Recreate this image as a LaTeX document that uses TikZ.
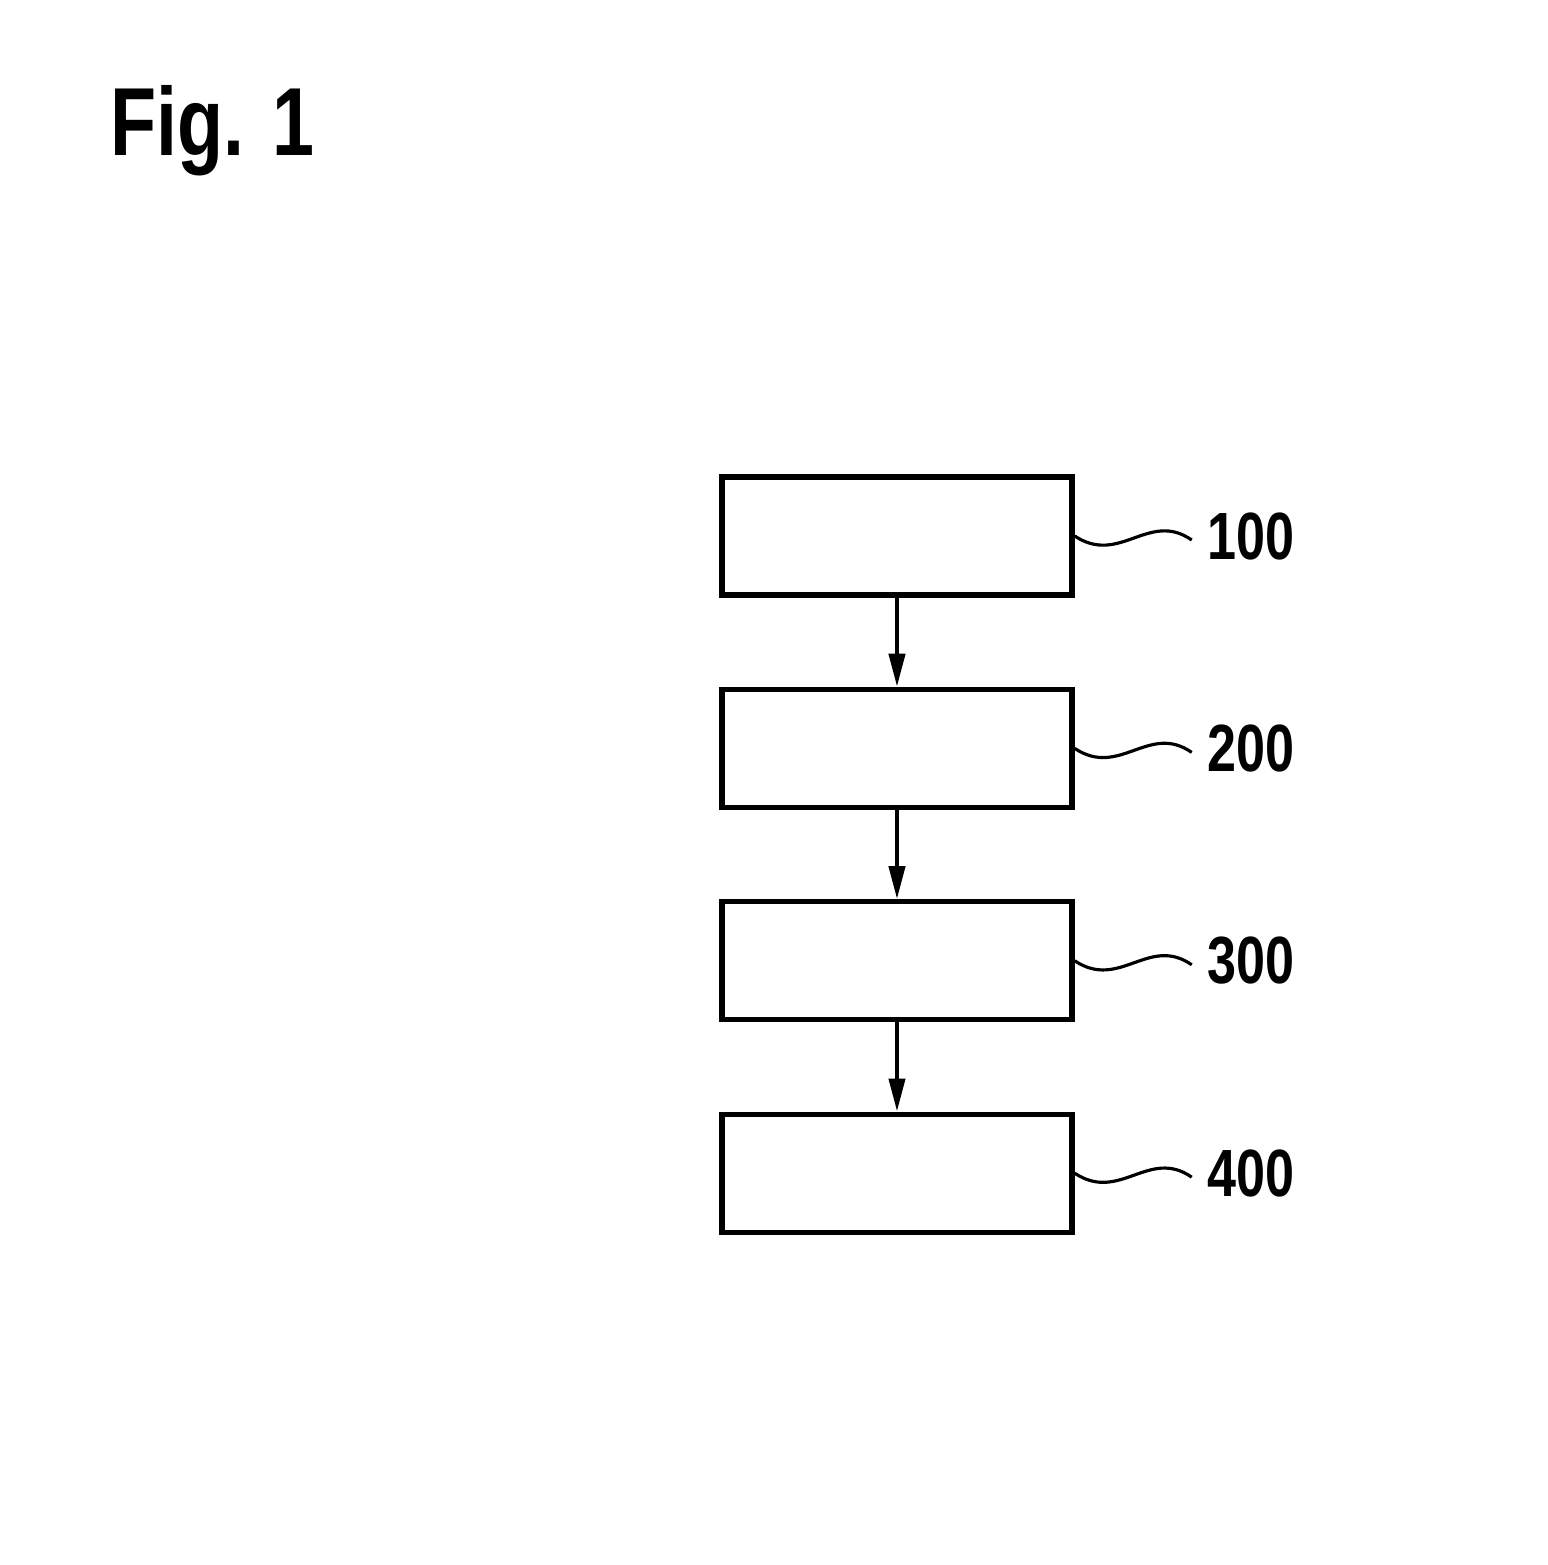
\documentclass[tikz,border=0pt]{standalone}
\usepackage{fontspec}
\usepackage{tikz}
\usetikzlibrary{positioning, arrows.meta, calc}
\newfontfamily\patfont[FakeStretch=0.78]{Liberation Sans}

\begin{document}
\begin{tikzpicture}[x=0.01cm, y=-0.01cm,
    blockbox/.style={draw, line width=1.5pt, minimum width=3.5cm, minimum height=1.18cm, inner sep=0pt},
    flowarrow/.style={line width=1.2pt, -{Triangle[length=0.33cm, width=0.16cm]}},
    refline/.style={line width=0.9pt},
    reflabel/.style={anchor=west, inner sep=0pt, font=\patfont\bfseries\fontsize{19pt}{19pt}\selectfont},
    node distance=0.89cm]
  \useasboundingbox (0,0) rectangle (1548,1565);

  % title
  \node[anchor=west, inner sep=0pt, font=\patfont\bfseries\fontsize{27.5pt}{27.5pt}\selectfont] (figtitle) at (110,131) {Fig. 1};

  % blocks
  \node[blockbox] (b100) at (897,536) {};
  \node[blockbox, below=of b100] (b200) {};
  \node[blockbox, below=of b200] (b300) {};
  \node[blockbox, below=of b300] (b400) {};

  \draw[flowarrow] (b100.south) -- (b200.north);
  \draw[flowarrow] (b200.south) -- (b300.north);
  \draw[flowarrow] (b300.south) -- (b400.north);

  % reference numerals
  \foreach \n in {100,200,300,400}{
    \node[reflabel] (l\n) at ($(b\n.east)+(132,0)$) {\n};
    \coordinate (e\n) at ($(l\n.west)+(-15,4)$);
    \draw[refline] (b\n.east) .. controls +(45,30) and +(-43,-30) .. (e\n);
  }
\end{tikzpicture}
\end{document}
